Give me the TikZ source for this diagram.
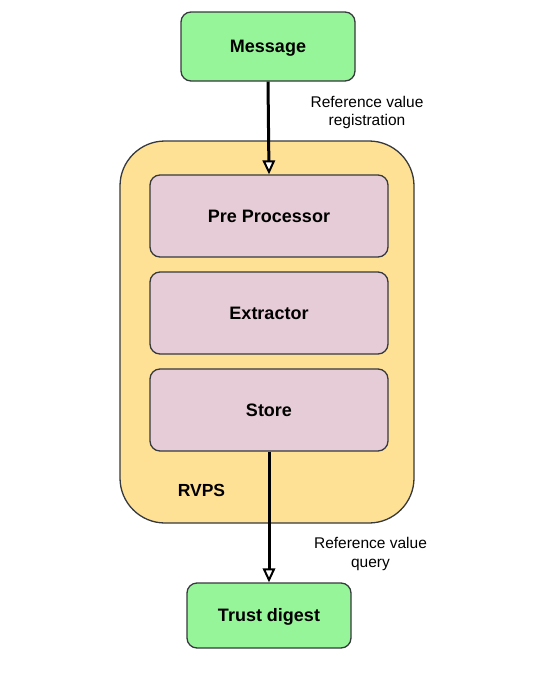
\documentclass[tikz,border=0pt]{standalone}
\usepackage{fontspec}
\setmainfont{Liberation Sans}
\usetikzlibrary{arrows.meta}
\definecolor{boxgreen}{HTML}{97F599}
\definecolor{rvpsyellow}{HTML}{FFE196}
\definecolor{stagepink}{HTML}{E6CCD7}
\definecolor{edgegray}{HTML}{36393D}
\tikzset{
  boxbase/.style={draw=edgegray, line width=1.3pt, rounded corners=10pt, inner sep=0pt,
    font=\fontsize{18}{21}\selectfont\bfseries, text=black, text height=12.9pt, text depth=0pt},
  endbox/.style={boxbase, fill=boxgreen},
  stagebox/.style={boxbase, fill=stagepink, minimum width=238pt, minimum height=82pt},
  container/.style={draw=edgegray, line width=1.3pt, rounded corners=45pt, fill=rvpsyellow},
  flow/.style={line width=3pt, -{Triangle[open, fill=white, length=14pt, width=12.5pt, line width=2pt]}},
  flowlabel/.style={font=\fontsize{15.5}{18.5}\selectfont, align=center, text=black, inner sep=0pt},
  boldlabel/.style={font=\fontsize{17.5}{20}\selectfont\bfseries, text=black, inner sep=0pt, text height=12.5pt, text depth=0pt}
}
\begin{document}
\begin{tikzpicture}[x=1pt, y=-1pt]
\useasboundingbox (0,0) rectangle (542,678);
\fill[white] (0,0) rectangle (542,678);
% container
\draw[container] (120,141) rectangle (414,523);
\node[boldlabel] (rvps) at (201.5,490.5) {RVPS};
% end boxes
\node[endbox, minimum width=174pt, minimum height=69pt] (msg) at (268,46.5) {Message};
\node[endbox, minimum width=164pt, minimum height=65pt] (trust) at (269,615.5) {Trust digest};
% stages
\node[stagebox] (pre) at (269,216) {Pre Processor};
\node[stagebox] (ext) at (269,313) {Extractor};
\node[stagebox] (store) at (269,410) {Store};
% connectors
\draw[flow] (msg.south) -- (pre.north);
\draw[flow] (store.south) -- (trust.north);
\node[flowlabel] (lab1) at (367,112.3) {Reference value\\registration};
\node[flowlabel] (lab2) at (370.5,554) {Reference value\\query};
\end{tikzpicture}
\end{document}
